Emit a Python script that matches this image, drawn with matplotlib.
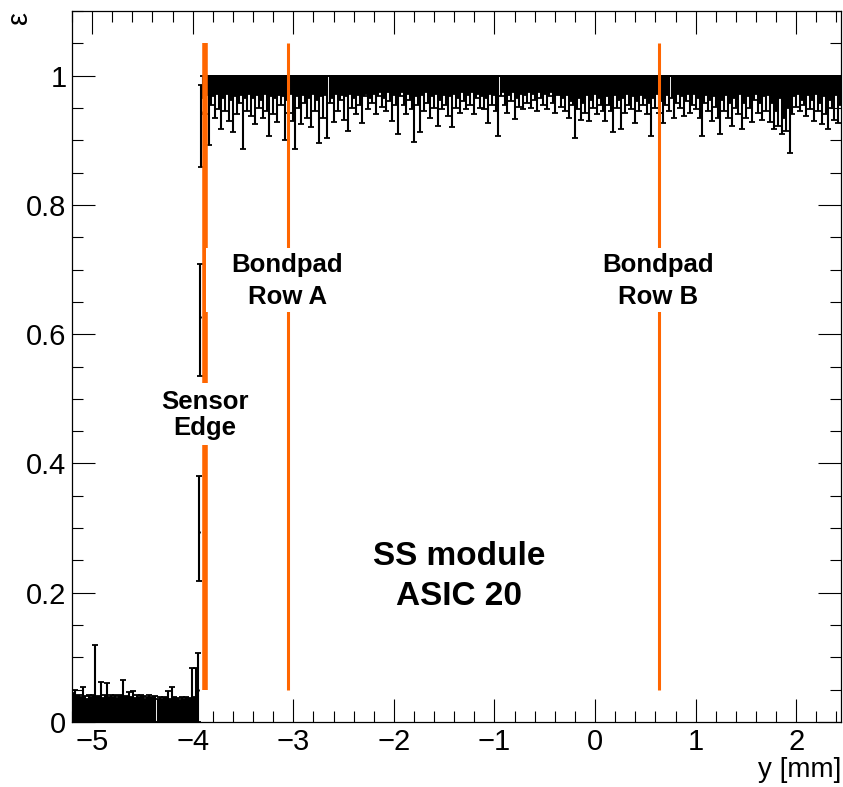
import numpy as np
import matplotlib
matplotlib.use('Agg')
import matplotlib.pyplot as plt
from matplotlib.patches import Rectangle
from matplotlib.ticker import MultipleLocator

plt.rcParams['font.family'] = ['Liberation Sans', 'DejaVu Sans']

# --- inefficient region outside the sensor (0.02 mm bins) ---
out_x0 = -5.19
out_dx = 0.02
# upper edge of the efficiency interval (per mille), lower edge is 0
out_high = [45, 49, 40, 42, 38, 54, 40, 36, 42, 39, 41, 119, 38, 40, 62, 37, 41, 60, 39, 42,
            38, 41, 37, 40, 42, 65, 38, 40, 46, 39, 48, 37, 41, 38, 42, 40, 36, 39, 41, 38,
            37, 40, 36, 38, 35, 39, 37, 48, 36, 54, 38, 35, 37, 34, 38, 36, 39, 35, 37, 83,
            38, 83]

# --- rising edge (0.01 mm bins) ---
edge_x = [-3.945, -3.935, -3.925, -3.915]
edge_eff = [0.050, 0.294, 0.626, 0.944]
edge_low = [0.000, 0.218, 0.536, 0.858]
edge_high = [0.107, 0.380, 0.709, 0.986]

# --- efficient sensor region (0.02 mm bins), upper edge at 1 ---
in_x0 = -3.90
in_dx = 0.02
# lower edge of the efficiency interval (per mille)
in_low = [965, 940, 970, 892, 955, 968, 935, 972, 948, 918, 966, 945, 972, 930, 962, 913, 968, 940, 958, 970,
          887, 965, 945, 972, 938, 966, 925, 970, 950, 962, 935, 972, 945, 907, 968, 940, 965, 928, 970, 955,
          968, 900, 962, 942, 972, 930, 887, 968, 950, 925, 970, 958, 935, 966, 920, 972, 945, 962, 896, 968,
          935, 970, 904, 958, 966, 928, 972, 945, 962, 970, 932, 968, 915, 972, 950, 965, 940, 970, 955, 927,
          968, 972, 948, 965, 958, 972, 940, 968, 974, 952, 966, 945, 975, 960, 930, 970, 955, 910, 968, 974,
          955, 940, 972, 962, 948, 897, 968, 955, 913, 970, 945, 974, 958, 935, 968, 950, 972, 922, 962, 948,
          970, 955, 938, 968, 921, 972, 950, 966, 942, 974, 960, 948, 970, 955, 975, 940, 966, 972, 950, 968,
          948, 966, 926, 972, 955, 970, 945, 906, 968, 974, 955, 942, 970, 960, 975, 933, 966, 952, 972, 948,
          970, 958, 975, 950, 972, 962, 945, 974, 966, 955, 972, 948, 968, 975, 958, 942, 970, 972, 952, 965,
          945, 970, 935, 960, 955, 903, 948, 966, 932, 958, 942, 970, 930, 962, 950, 972, 940, 966, 955, 945,
          930, 968, 955, 945, 913, 970, 950, 962, 918, 966, 942, 972, 955, 948, 968, 927, 960, 945, 970, 955,
          966, 940, 958, 907, 965, 950, 972, 942, 960, 926, 955, 970, 945, 966, 935, 958, 972, 950, 968, 938,
          960, 972, 942, 955, 972, 948, 966, 935, 906, 958, 970, 945, 962, 930, 968, 952, 935, 910, 962, 945,
          970, 935, 958, 922, 966, 950, 940, 972, 918, 958, 935, 968, 950, 928, 962, 972, 942, 958, 932, 968,
          945, 970, 928, 958, 918, 945, 922, 965, 910, 935, 915, 950, 881, 940, 968, 952, 972, 945, 962, 955,
          938, 970, 948, 962, 930, 972, 945, 958, 925, 968, 940, 918, 962, 950, 932, 970, 926, 955]

# marker lines
sensor_edge = -3.876
row_a = -3.057
row_b = 0.631

fig = plt.figure(figsize=(8.43, 7.87), dpi=100)
ax = fig.add_axes([72 / 843, 65 / 787, 769 / 843, 711 / 787])

err_kw = dict(fmt='none', ecolor='black', elinewidth=1.5, capsize=2.5, capthick=1.3, zorder=2)

# outside
xo = out_x0 + out_dx * np.arange(len(out_high))
ho = np.array(out_high) / 1000.0
ax.errorbar(xo, np.zeros_like(ho), yerr=[np.zeros_like(ho), ho], **err_kw)

# edge
e_eff = np.array(edge_eff)
ax.errorbar(edge_x, e_eff, yerr=[e_eff - np.array(edge_low), np.array(edge_high) - e_eff], **err_kw)
ax.plot(edge_x, e_eff, 'k.', ms=2, zorder=2)

# inside
xi = in_x0 + in_dx * np.arange(len(in_low))
lo = np.array(in_low) / 1000.0
ax.errorbar(xi, lo, yerr=[np.zeros_like(lo), 1.0 - lo], **err_kw)

orange = '#ff6600'
ax.vlines(sensor_edge, 0.05, 1.05, color=orange, lw=4.0, zorder=3)
ax.vlines([row_a, row_b], 0.05, 1.05, color=orange, lw=2.2, zorder=3)

# white label boxes that hide the lines
for (x0, x1, y0, y1) in [(-3.866, -2.26, 0.634, 0.733),
                         (row_b - 0.8, row_b + 0.8, 0.634, 0.733),
                         (-4.42, -3.35, 0.428, 0.524)]:
    ax.add_patch(Rectangle((x0, y0), x1 - x0, y1 - y0, facecolor='white',
                           edgecolor='none', zorder=4))

lab_kw = dict(ha='center', va='baseline', fontsize=18.5, fontweight='bold', zorder=5)
ax.text(row_a, 0.696, 'Bondpad', **lab_kw)
ax.text(row_a, 0.646, 'Row A', **lab_kw)
ax.text(row_b, 0.696, 'Bondpad', **lab_kw)
ax.text(row_b, 0.646, 'Row B', **lab_kw)
ax.text(-3.88, 0.485, 'Sensor', **lab_kw)
ax.text(-3.88, 0.4436, 'Edge', **lab_kw)
ax.text(-1.354, 0.2427, 'SS module', ha='center', va='baseline', fontsize=24, fontweight='bold')
ax.text(-1.354, 0.181, 'ASIC 20', ha='center', va='baseline', fontsize=24, fontweight='bold')

ax.set_xlim(-5.2, 2.445)
ax.set_ylim(0, 1.1)
ax.xaxis.set_major_locator(MultipleLocator(1))
ax.xaxis.set_minor_locator(MultipleLocator(0.2))
ax.yaxis.set_major_locator(MultipleLocator(0.2))
ax.yaxis.set_minor_locator(MultipleLocator(0.05))
ax.set_yticks([0, 0.2, 0.4, 0.6, 0.8, 1.0])
ax.set_yticklabels(['0', '0.2', '0.4', '0.6', '0.8', '1'])
ax.tick_params(which='both', direction='in', top=True, right=True, width=0.8,
               labelsize=21)
ax.tick_params(which='major', length=16.5)
ax.tick_params(which='minor', length=8)
ax.tick_params(axis='x', pad=4)
ax.tick_params(axis='y', pad=4)
for s in ax.spines.values():
    s.set_linewidth(0.9)

fig.text(841 / 843, 10 / 787, 'y [mm]', ha='right', va='baseline', fontsize=20)
fig.text(19 / 843, 1 - 17 / 787, 'ε', ha='center', va='center', rotation=90, fontsize=21)

fig.savefig('out.png', dpi=100)
